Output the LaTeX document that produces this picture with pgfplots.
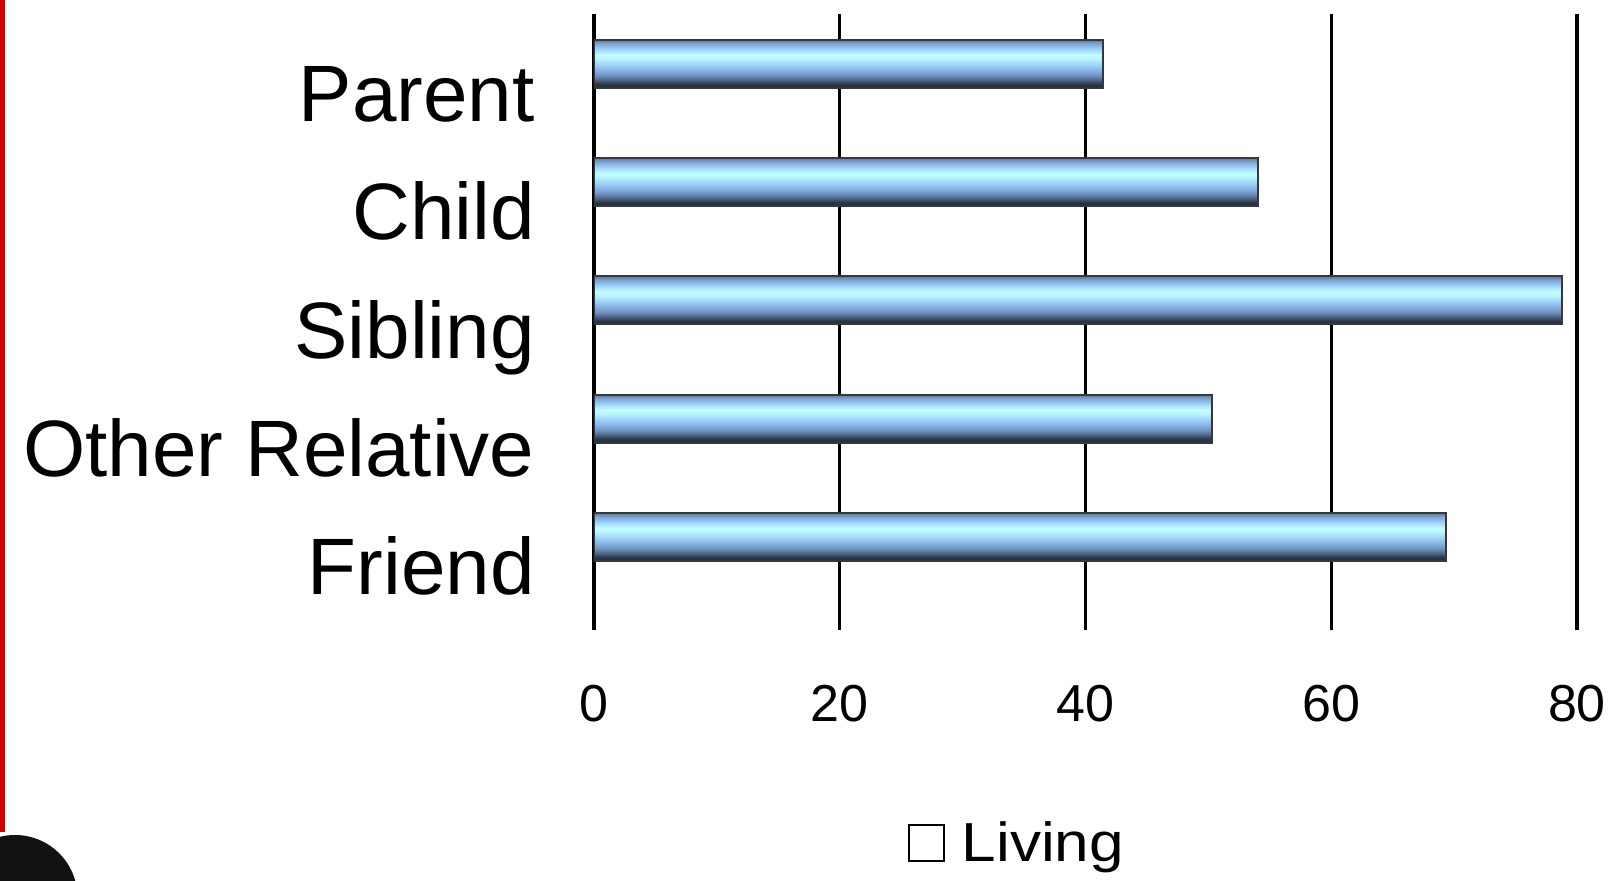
\documentclass[border=0pt]{standalone}
\usepackage{pgfplots}
\pgfplotsset{compat=1.18}
\usepackage{fontspec}
\setmainfont{Liberation Sans}
\newfontfamily\legendfont[FakeStretch=1.13]{Liberation Sans}

\definecolor{barA}{RGB}{30,42,56}
\definecolor{barB}{RGB}{44,56,72}
\definecolor{barC}{RGB}{78,100,134}
\definecolor{barD}{RGB}{112,148,196}
\definecolor{barE}{RGB}{146,194,242}
\definecolor{barF}{RGB}{184,244,255}
\definecolor{barG}{RGB}{194,255,255}
\definecolor{barH}{RGB}{160,212,255}
\definecolor{barI}{RGB}{125,164,212}
\definecolor{barJ}{RGB}{92,120,160}
\definecolor{edgered}{RGB}{212,0,0}

% glassy bar: dark underside, pale cyan highlight near the top
\pgfdeclareverticalshading{barglass}{100bp}{%
  color(0bp)=(barA); color(25bp)=(barA); color(29bp)=(barB);
  color(33bp)=(barC); color(38bp)=(barD); color(46bp)=(barE);
  color(55bp)=(barF); color(59bp)=(barG); color(65bp)=(barH);
  color(71bp)=(barI); color(75bp)=(barJ); color(100bp)=(barJ)}

\pgfplotsset{
  deceased/.style={xbar, forget plot, bar width=0.406, bar shift=0.26,
    shading=barglass, draw=black!78, line width=1pt},
}

\begin{document}
\begin{tikzpicture}
\useasboundingbox (0,0) rectangle (809.5pt,440pt);
% slide decorations
\fill[edgered] (0,24pt) rectangle (2.7pt,440pt);
\fill[black!93] (7.5pt,-8.75pt) circle (31.25pt);

\begin{axis}[
  at={(297pt,125pt)}, anchor=south west,
  scale only axis,
  width=491.5pt, height=308pt,
  xmin=0, xmax=80,
  ymin=-0.527, ymax=4.68,
  xtick={0,20,40,60,80},
  ytick={0,1,2,3,4},
  yticklabels={Friend, Other Relative, Sibling, Child, Parent},
  axis line style={draw=none},
  major tick length=0pt,
  xmajorgrids,
  major x grid style={black, line width=1.7pt},
  /pgf/number format/assume math mode=true,
  xticklabel style={font=\fontsize{26}{30}\selectfont, anchor=base, yshift=-45.5pt, inner sep=0pt},
  yticklabel style={font=\fontsize{40}{46}\selectfont, anchor=base east, inner sep=0pt, xshift=-29.5pt, yshift=-13.5pt},
  legend style={at={(axis description cs:0.4313,-0.3458)}, anchor=center,
    draw=none, fill=none, font=\legendfont\fontsize{27.5}{31}\selectfont},
  legend image code/.code={%
    \draw[black, line width=0.9pt, fill=white] (0pt,-9pt) rectangle (17.5pt,9pt);
    \path (24.5pt,0pt);},
]
% deceased series: one shaded bar per category
\addplot[deceased] coordinates {(69.3,0)};
\addplot[deceased] coordinates {(50.3,1)};
\addplot[deceased] coordinates {(78.8,2)};
\addplot[deceased] coordinates {(54.0,3)};
\addplot[deceased] coordinates {(41.4,4)};
% living series: white bars on the white background
\addplot[xbar, bar width=0.406, bar shift=-0.146, fill=none, draw=none]
  coordinates {(65.8,0) (31.4,1) (43.8,2) (37.7,3) (27.2,4)};
\addlegendentry{Living}
\end{axis}
\end{tikzpicture}
\end{document}
